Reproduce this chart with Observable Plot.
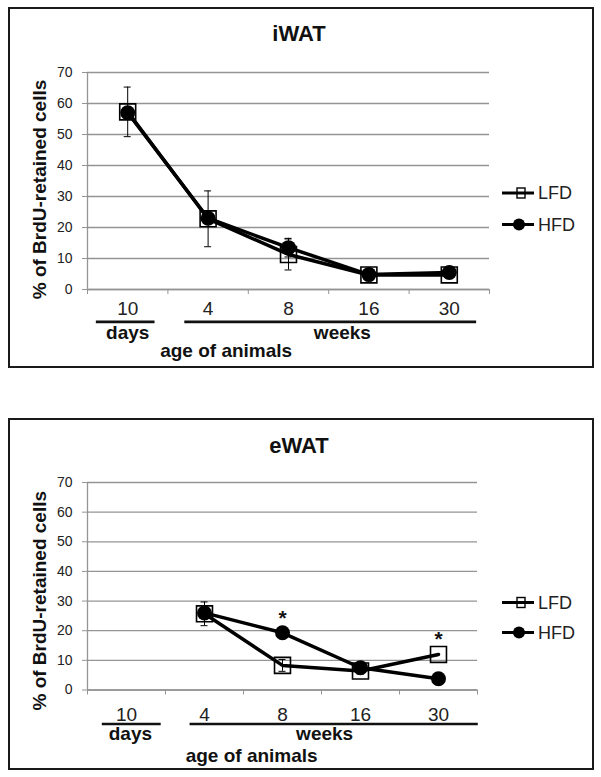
<!DOCTYPE html>
<html>
<head>
<meta charset="utf-8">
<script src="https://cdn.jsdelivr.net/npm/d3@7"></script>
<script src="https://cdn.jsdelivr.net/npm/@observablehq/plot@0.6"></script>
<style>
  body { margin: 0; background: #fff; font-family: "Liberation Sans", Arial, sans-serif; }
  #page { position: relative; width: 601px; height: 777px; overflow: hidden; }
  .frame { position: absolute; left: 8px; width: 586px; border: 2px solid #1a1a1a; box-sizing: border-box; }
  .title { position: absolute; left: 0; width: 598px; text-align: center; font-weight: bold; font-size: 22px; line-height: 26px; color: #111; }
  .chart { position: absolute; left: 10px; }
  .legend { position: absolute; left: 495px; overflow: visible; }
</style>
</head>
<body>
<div id="page"></div>
<script>
// ---- data ----
const categories = ["10", "4", "8", "16", "30"];
const yTicks = [0, 10, 20, 30, 40, 50, 60, 70];
const seriesNames = ["LFD", "HFD"];
const panelTitles = ["iWAT", "eWAT"];
const groupLabels = ["days", "weeks"];
const xTitle = "age of animals";
const yTitle = "% of BrdU-retained cells";

const iwatLFD   = [57.3, 22.8, 11.3, 4.7, 4.7];
const iwatLFDsd = [8, 9, 5, 1, 1];
const iwatHFD   = [57.0, 23.0, 13.5, 4.8, 5.5];
const iwatHFDsd = [1.5, 1.5, 3, 0.8, 1.2];
const iwatSig   = ["", "", "", "", ""];

const ewatLFD   = [null, 25.7, 8.3, 6.4, 12.0];
const ewatLFDsd = [null, 4, 2, 1, null];
const ewatHFD   = [null, 26.0, 19.3, 7.5, 3.8];
const ewatHFDsd = [null, 1, 1, 1.5, null];
const ewatSig   = ["", "", "*", "", "*"];

// ---- drawing ----
const GRID = "#949494";
const FONT = "'Liberation Sans', Arial, sans-serif";
const page = document.getElementById("page");

function rowsOf(vals, sds) {
  return vals.map((v, i) => ({i, v, sd: sds[i]})).filter(d => d.v != null);
}

function panel(cfg) {
  const frame = document.createElement("div");
  frame.className = "frame";
  frame.style.top = cfg.frameTop + "px";
  frame.style.height = cfg.frameHeight + "px";
  page.appendChild(frame);

  const title = document.createElement("div");
  title.className = "title";
  title.textContent = cfg.title;
  title.style.top = (cfg.titleY - 13) + "px";
  page.appendChild(title);

  const lfd = rowsOf(cfg.lfd, cfg.lfdsd);
  const hfd = rowsOf(cfg.hfd, cfg.hfdsd);
  const err = lfd.concat(hfd).filter(d => d.sd != null);
  const sig = cfg.sig.map((s, i) => ({i, s, v: Math.max(cfg.lfd[i] ?? 0, cfg.hfd[i] ?? 0)})).filter(d => d.s);
  const idx = categories.map((c, i) => i);
  const bounds = d3.range(-0.5, categories.length, 1);
  const groups = groupLabels.map((label, k) => ({label, from: cfg.spans[k][0], to: cfg.spans[k][1], at: cfg.labelAt[k]}));

  const chart = Plot.plot({
    width: 581,
    height: cfg.height,
    marginLeft: 77,
    marginRight: cfg.marginRight,
    marginTop: cfg.marginTop,
    marginBottom: cfg.marginBottom,
    x: {type: "linear", domain: [-0.5, categories.length - 0.5]},
    y: {domain: [0, 70]},
    style: {fontFamily: FONT, background: "none", overflow: "visible", color: "#222"},
    marks: [
      Plot.gridY(yTicks, {stroke: GRID, strokeOpacity: 1, strokeWidth: 1.3}),
      Plot.ruleX([-0.5], {stroke: GRID, strokeWidth: 1.3}),
      Plot.ruleY([0], {stroke: GRID, strokeWidth: 1.3}),
      Plot.axisY(yTicks, {tickSize: 5, tickPadding: 10, stroke: GRID, fill: "#222", fontSize: 14, label: null}),
      Plot.axisX(bounds, {tickSize: 5, tickFormat: () => "", stroke: GRID, label: null}),
      Plot.axisX(idx, {tickSize: 0, tickPadding: cfg.tickPad, tickFormat: i => categories[i], fontSize: 19, fill: "#222", label: null}),
      Plot.text([yTitle], {text: d => d, frameAnchor: "left", textAnchor: "middle", lineAnchor: "middle", rotate: -90, dx: -48, dy: cfg.yTitleDy, fontSize: 19, fontWeight: "bold", fill: "#111"}),
      Plot.ruleY(groups, {y: () => 0, x1: "from", x2: "to", dy: cfg.lineDy, stroke: "#111", strokeWidth: 2.6}),
      Plot.text(groups, {x: "at", frameAnchor: "bottom", lineAnchor: "middle", dy: cfg.groupDy, text: "label", fontSize: 19, fontWeight: "bold", fill: "#111"}),
      Plot.text([xTitle], {text: d => d, x: cfg.xTitleAt, frameAnchor: "bottom", lineAnchor: "middle", dy: cfg.xTitleDy, fontSize: 19, fontWeight: "bold", fill: "#111"}),
      Plot.line(lfd, {x: "i", y: "v", stroke: "#000", strokeWidth: 3.5}),
      Plot.line(hfd, {x: "i", y: "v", stroke: "#000", strokeWidth: 3.5}),
      Plot.ruleX(err, {x: "i", y1: d => d.v - d.sd, y2: d => d.v + d.sd, stroke: "#000", strokeWidth: 1}),
      Plot.ruleY(err, {x1: "i", x2: "i", y: d => d.v + d.sd, insetLeft: -3.5, insetRight: -3.5, stroke: "#000", strokeWidth: 1}),
      Plot.ruleY(err, {x1: "i", x2: "i", y: d => d.v - d.sd, insetLeft: -3.5, insetRight: -3.5, stroke: "#000", strokeWidth: 1}),
      Plot.dot(lfd, {x: "i", y: "v", symbol: "square", r: 9, fill: "none", stroke: "#000", strokeWidth: 1.6}),
      Plot.dot(hfd, {x: "i", y: "v", r: 7.5, fill: "#000", stroke: "none"}),
      Plot.text(sig, {x: "i", y: "v", text: "s", dy: -15, fontSize: 21, fontWeight: "bold", fill: "#111"})
    ]
  });
  chart.classList.add("chart");
  chart.style.top = cfg.svgTop + "px";
  page.appendChild(chart);

  // legend
  const lg = d3.create("svg").attr("class", "legend").attr("width", 95).attr("height", 60)
    .style("top", cfg.legendTop + "px");
  seriesNames.forEach((name, k) => {
    const y = cfg.legendRows[k];
    const g = lg.append("g");
    g.append("line").attr("x1", 7).attr("x2", 39).attr("y1", y).attr("y2", y)
      .attr("stroke", "#000").attr("stroke-width", 3);
    if (k === 0) {
      g.append("rect").attr("x", 22).attr("y", y - 5).attr("width", 8).attr("height", 10)
        .attr("fill", "none").attr("stroke", "#000").attr("stroke-width", 1.4);
    } else {
      g.append("circle").attr("cx", 24).attr("cy", y).attr("r", 6).attr("fill", "#000");
    }
    g.append("text").attr("x", 43).attr("y", y).attr("dy", "0.35em")
      .attr("font-family", FONT).attr("font-size", 18).attr("fill", "#222").text(name);
  });
  page.appendChild(lg.node());
}

panel({
  title: panelTitles[0], frameTop: 7, frameHeight: 361, titleY: 33.5,
  svgTop: 50, height: 315, marginTop: 22, marginBottom: 76, marginRight: 102,
  tickPad: 12, yTitleDy: 8.5,
  spans: [[-0.39, 0.34], [0.71, 4.34]], labelAt: [0, 2.67], lineDy: 32.4, groupDy: 43,
  xTitleAt: 1.225, xTitleDy: 61,
  lfd: iwatLFD, lfdsd: iwatLFDsd, hfd: iwatHFD, hfdsd: iwatHFDsd, sig: iwatSig,
  legendTop: 180, legendRows: [13, 44.5]
});

panel({
  title: panelTitles[1], frameTop: 418, frameHeight: 352, titleY: 446,
  svgTop: 458, height: 307.5, marginTop: 24, marginBottom: 76, marginRight: 114,
  tickPad: 17, yTitleDy: 14.5,
  spans: [[-0.31, 0.445], [0.815, 4.51]], labelAt: [0.05, 2.54], lineDy: 34, groupDy: 44,
  xTitleAt: 1.605, xTitleDy: 66,
  lfd: ewatLFD, lfdsd: ewatLFDsd, hfd: ewatHFD, hfdsd: ewatHFDsd, sig: ewatSig,
  legendTop: 590, legendRows: [12.5, 42.5]
});
</script>
</body>
</html>
